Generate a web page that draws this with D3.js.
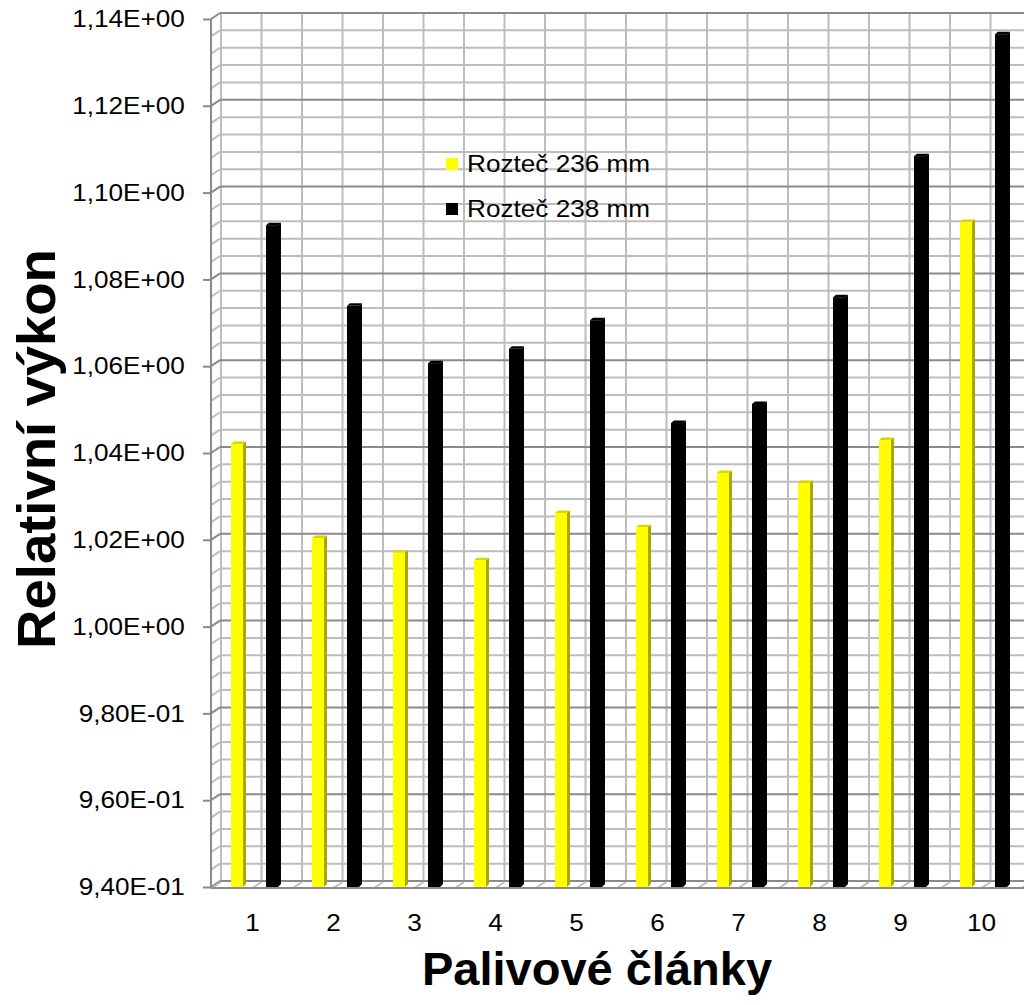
<!DOCTYPE html>
<html>
<head>
<meta charset="utf-8">
<script src="https://cdn.jsdelivr.net/npm/d3@7/dist/d3.min.js"></script>
<style>
  html, body { margin: 0; padding: 0; background: #fff; }
  svg { display: block; }
  text { font-family: "Liberation Sans", Arial, sans-serif; fill: #000; }
</style>
</head>
<body>
<svg id="chart" width="1024" height="1005"></svg>
<script>
// ---- data ----
const categories = ["1","2","3","4","5","6","7","8","9","10"];
const seriesNames = ["Rozteč 236 mm", "Rozteč 238 mm"];
const values236 = [1.0421, 1.0204, 1.0170, 1.0153, 1.0262, 1.0229, 1.0354, 1.0331, 1.0430, 1.0932];
const values238 = [1.0925, 1.0739, 1.0607, 1.0640, 1.0706, 1.0469, 1.0513, 1.0759, 1.1084, 1.1365];
const yTickValues = [0.94, 0.96, 0.98, 1.00, 1.02, 1.04, 1.06, 1.08, 1.10, 1.12, 1.14];
const yTickLabels = ["9,40E-01","9,60E-01","9,80E-01","1,00E+00","1,02E+00","1,04E+00","1,06E+00","1,08E+00","1,10E+00","1,12E+00","1,14E+00"];
const xTitle = "Palivové články";
const yTitle = "Relativní výkon";

// ---- layout ----
const svg = d3.select("#chart");
const DX = 9, DY = -6;            // 3D depth offset of back wall
const frontLeft = 211, frontBottom = 887;
const SX = 1.09;                  // horizontal stretch of small text
const y = d3.scaleLinear().domain([0.94, 1.14]).range([frontBottom, 19]);
const x = d3.scaleBand().domain(categories).range([212, 1022]).padding(0);
const xs = d3.scaleBand().domain(seriesNames).range([19, 69]).paddingInner(0.571).paddingOuter(0);
const minorTicks = d3.range(0, 51).map(i => 0.94 + i * 0.004);
const majorSet = new Set(yTickValues.map(v => v.toFixed(3)));
const isMajor = v => majorSet.has(v.toFixed(3));
const minorColor = "#bdbdbd", majorColor = "#8a8a8a";

// vertical wall gridlines every half category
const halfPositions = [];
categories.forEach(c => { halfPositions.push(x(c)); halfPositions.push(x(c) + x.bandwidth() / 2); });
halfPositions.push(x.range()[1]);

const wall = svg.append("g");
wall.selectAll("line.v").data(halfPositions).join("line")
  .attr("x1", d => d + DX).attr("x2", d => d + DX)
  .attr("y1", y(1.14) + DY).attr("y2", y(0.94) + DY)
  .attr("stroke", minorColor).attr("stroke-width", 2);
wall.selectAll("line.h").data(minorTicks).join("line")
  .attr("x1", frontLeft + DX).attr("x2", 1024)
  .attr("y1", d => y(d) + DY).attr("y2", d => y(d) + DY)
  .attr("stroke", d => isMajor(d) ? majorColor : minorColor).attr("stroke-width", 2);
wall.selectAll("line.s").data(minorTicks).join("line")
  .attr("x1", frontLeft).attr("x2", frontLeft + DX)
  .attr("y1", d => y(d)).attr("y2", d => y(d) + DY)
  .attr("stroke", d => isMajor(d) ? majorColor : minorColor).attr("stroke-width", 2);
wall.selectAll("line.f").data(halfPositions).join("line")
  .attr("x1", d => d).attr("x2", d => d + DX)
  .attr("y1", frontBottom + 1).attr("y2", frontBottom + 1 + DY)
  .attr("stroke", minorColor).attr("stroke-width", 2);

// ---- bars ----
const seriesData = [
  { name: seriesNames[0], values: values236, front: "#ffff00", side: "#a8a800", top: "#d6d600" },
  { name: seriesNames[1], values: values238, front: "#000000", side: "#000000", top: "#000000" }
];
const BW = 12, BD = 3;
seriesData.forEach(s => {
  const g = svg.append("g");
  const bars = categories.map((c, i) => ({ c, v: s.values[i] }));
  const x0 = d => x(d.c) + xs(s.name);
  g.selectAll("path.side").data(bars).join("path")
    .attr("d", d => {
      const a = x0(d) + BW, t = y(d.v);
      return `M${a},${t}L${a + BD},${t - BD + 0.5}L${a + BD},${frontBottom - BD}L${a},${frontBottom}Z`;
    }).attr("fill", s.side);
  g.selectAll("path.top").data(bars).join("path")
    .attr("d", d => {
      const a = x0(d), t = y(d.v);
      return `M${a},${t}L${a + BD},${t - BD + 0.5}L${a + BW + BD},${t - BD + 0.5}L${a + BW},${t}Z`;
    }).attr("fill", s.top);
  g.selectAll("rect").data(bars).join("rect")
    .attr("x", d => x0(d)).attr("width", BW)
    .attr("y", d => y(d.v)).attr("height", d => frontBottom - y(d.v))
    .attr("fill", s.front);
});

// ---- axes ----
const yAxis = d3.axisLeft(y).tickValues(yTickValues)
  .tickFormat((d, i) => yTickLabels[i]).tickSize(8).tickPadding(16);
const ga = svg.append("g").attr("transform", `translate(${frontLeft},0)`).call(yAxis);
ga.select(".domain").attr("stroke", majorColor).attr("stroke-width", 2)
  .attr("d", `M0,${y(1.14)}V${frontBottom + 1}`);
ga.selectAll(".tick line").attr("stroke", majorColor).attr("stroke-width", 2);
ga.selectAll(".tick text").attr("font-size", 24).attr("font-family", "Liberation Sans, Arial, sans-serif")
  .attr("fill", "#000").attr("transform", `scale(${SX},1)`);

const xAxis = d3.axisBottom(x).tickSize(0).tickPadding(26);
const gx = svg.append("g").attr("transform", `translate(0,${frontBottom + 1})`).call(xAxis);
gx.select(".domain").attr("stroke", majorColor).attr("stroke-width", 2)
  .attr("d", `M${frontLeft},0H1024`);
gx.selectAll(".tick text").attr("font-size", 24).attr("font-family", "Liberation Sans, Arial, sans-serif")
  .attr("fill", "#000").attr("transform", `scale(${SX},1)`);

// ---- titles ----
svg.append("text").attr("x", 597).attr("y", 985).attr("text-anchor", "middle")
  .attr("font-size", 47).attr("font-weight", "bold").text(xTitle);
svg.append("text").attr("transform", "translate(55,449) rotate(-90)").attr("text-anchor", "middle")
  .attr("font-size", 54.5).attr("font-weight", "bold").text(yTitle);

// ---- legend ----
const leg = svg.append("g").attr("transform", "translate(446,158)");
seriesData.forEach((s, i) => {
  const r = leg.append("g").attr("transform", `translate(0,${i * 45})`);
  r.append("rect").attr("width", 12).attr("height", 12).attr("fill", s.front);
  r.append("text").attr("transform", `translate(21,14) scale(${SX},1)`)
    .attr("font-size", 24).text(s.name);
});
</script>
</body>
</html>
